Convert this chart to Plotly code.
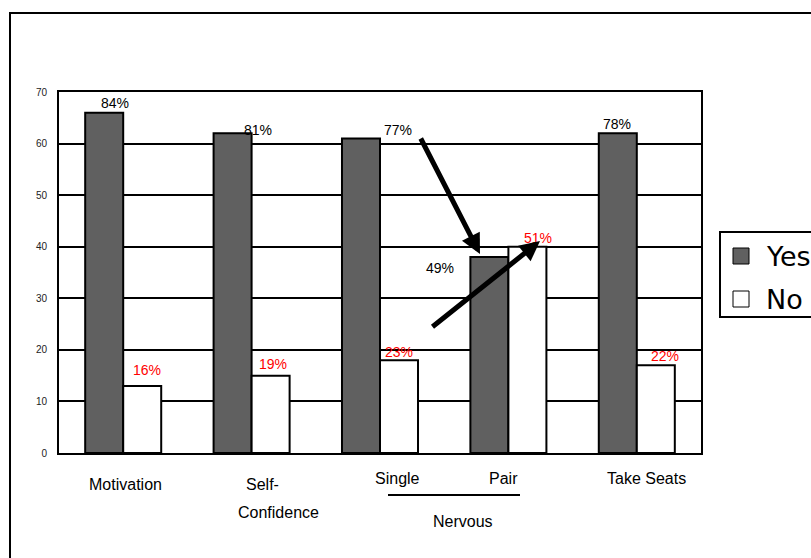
import math
import plotly.graph_objects as go

# Survey answers per question (counts of respondents)
categories = ["Motivation", "Self-Confidence", "Single", "Pair", "Take Seats"]
yes_counts = [66, 62, 61, 38, 62]
no_counts = [13, 15, 18, 40, 17]
series_names = ["Yes", "No"]
y_tick_values = [0, 10, 20, 30, 40, 50, 60, 70]
group_name = "Nervous"

# Figure geometry
W, H = 811, 558
L, R, T, B = 59, 110, 92, 105
PW = W - L - R
PH = H - T - B


def px_x(px):
    return (px - L) / PW


def px_y(py):
    return (H - B - py) / PH


def pct(part, whole):
    return int(math.floor(100.0 * part / whole + 0.5))


YES_COLOR = "#606060"
FONT = "Liberation Sans, Arial, sans-serif"

fig = go.Figure()
fig.add_trace(go.Bar(
    x=categories, y=yes_counts, name=series_names[0],
    marker=dict(color=YES_COLOR, line=dict(color="black", width=2)),
))
fig.add_trace(go.Bar(
    x=categories, y=no_counts, name=series_names[1],
    marker=dict(color="white", line=dict(color="black", width=2)),
))

annotations = []

# Percentage labels (share of Yes / No within each question)
yes_label_shift = {  # (xshift, yshift, color)
    "Motivation": (-8, 10, "black"),
    "Self-Confidence": (6, 3, "black"),
    "Single": (18, 8, "black"),
    "Pair": (-68, -11, "black"),
    "Take Seats": (-20, 9, "black"),
}
no_label_shift = {
    "Motivation": (24, 16, "red"),
    "Self-Confidence": (21, 12, "red"),
    "Single": (19, 8, "red"),
    "Pair": (30, 9, "red"),
    "Take Seats": (28, 9, "red"),
}
for cat, yv, nv in zip(categories, yes_counts, no_counts):
    total = yv + nv
    xs, ys, col = yes_label_shift[cat]
    annotations.append(dict(
        x=cat, y=yv, xref="x", yref="y", text=f"{pct(yv, total)}%",
        showarrow=False, xshift=xs, yshift=ys,
        font=dict(family=FONT, size=14, color=col),
    ))
    xs, ys, col = no_label_shift[cat]
    annotations.append(dict(
        x=cat, y=nv, xref="x", yref="y", text=f"{pct(nv, total)}%",
        showarrow=False, xshift=xs, yshift=ys,
        font=dict(family=FONT, size=14, color=col),
    ))

# Category labels under the axis
cat_label_pos = {  # (xshift, y pixel)
    "Motivation": (2, 484),
    "Single": (17, 478),
    "Pair": (-5, 478),
    "Take Seats": (10, 478),
}
for cat in categories:
    if cat in cat_label_pos:
        xs, py = cat_label_pos[cat]
        annotations.append(dict(
            x=cat, y=px_y(py), xref="x", yref="paper", text=cat,
            showarrow=False, xshift=xs, yanchor="middle",
            font=dict(family=FONT, size=16, color="black"),
        ))
    else:
        head, tail = cat.split("-", 1)
        annotations.append(dict(
            x=cat, y=px_y(484), xref="x", yref="paper", text=head + "-",
            showarrow=False, xshift=11, yanchor="middle",
            font=dict(family=FONT, size=16, color="black"),
        ))
        annotations.append(dict(
            x=cat, y=px_y(512), xref="x", yref="paper", text=tail,
            showarrow=False, xshift=27, yanchor="middle",
            font=dict(family=FONT, size=16, color="black"),
        ))

# Group label for the Single / Pair pair
annotations.append(dict(
    x=px_x(463), y=px_y(521), xref="paper", yref="paper", text=group_name,
    showarrow=False, yanchor="middle",
    font=dict(family=FONT, size=16, color="black"),
))

# Arrows between the Single and Pair answers
for head, tail in [((480, 254), (420, 137)), ((540, 241), (431, 328))]:
    annotations.append(dict(
        x=px_x(head[0]), y=px_y(head[1]), xref="paper", yref="paper",
        ax=tail[0] - head[0], ay=tail[1] - head[1], axref="pixel", ayref="pixel",
        text="", showarrow=True, arrowhead=2, arrowsize=0.8, arrowwidth=5,
        arrowcolor="black", standoff=0,
    ))

# Legend drawn as a boxed key on the right
legend_rows = [(series_names[0], YES_COLOR, 256), (series_names[1], "white", 299)]
shapes = [
    dict(type="rect", xref="paper", yref="paper",
         x0=px_x(10), x1=px_x(830), y0=px_y(13), y1=px_y(580),
         line=dict(color="black", width=2), layer="below"),
    dict(type="line", xref="paper", yref="paper",
         x0=px_x(388), x1=px_x(520), y0=px_y(495), y1=px_y(495),
         line=dict(color="black", width=2)),
    dict(type="rect", xref="paper", yref="paper",
         x0=px_x(720), x1=px_x(840), y0=px_y(232), y1=px_y(317),
         line=dict(color="black", width=2), fillcolor="white"),
]
for name, color, cy in legend_rows:
    shapes.append(dict(
        type="rect", xref="paper", yref="paper",
        x0=px_x(733), x1=px_x(749), y0=px_y(cy - 8), y1=px_y(cy + 8),
        line=dict(color="black", width=1), fillcolor=color,
    ))
    annotations.append(dict(
        x=px_x(764), y=px_y(cy), xref="paper", yref="paper", text=name,
        showarrow=False, xanchor="left", yanchor="middle",
        font=dict(family="DejaVu Sans, sans-serif", size=27, color="black"),
    ))

fig.update_layout(
    width=W, height=H,
    margin=dict(l=L, r=R, t=T, b=B, autoexpand=False),
    barmode="group", bargap=0.408, bargroupgap=0,
    showlegend=False,
    plot_bgcolor="white", paper_bgcolor="white",
    annotations=annotations, shapes=shapes,
    xaxis=dict(
        showticklabels=False, ticks="", showgrid=False,
        showline=True, linecolor="black", linewidth=2, mirror=True,
    ),
    yaxis=dict(
        range=[0, 70], tickvals=y_tick_values, ticks="",
        showgrid=True, gridcolor="black", gridwidth=2, zeroline=False,
        showline=True, linecolor="black", linewidth=2, mirror=True,
        tickfont=dict(family=FONT, size=10, color="#222222"),
        ticklabelstandoff=8,
    ),
)

fig.write_html("out.html")
